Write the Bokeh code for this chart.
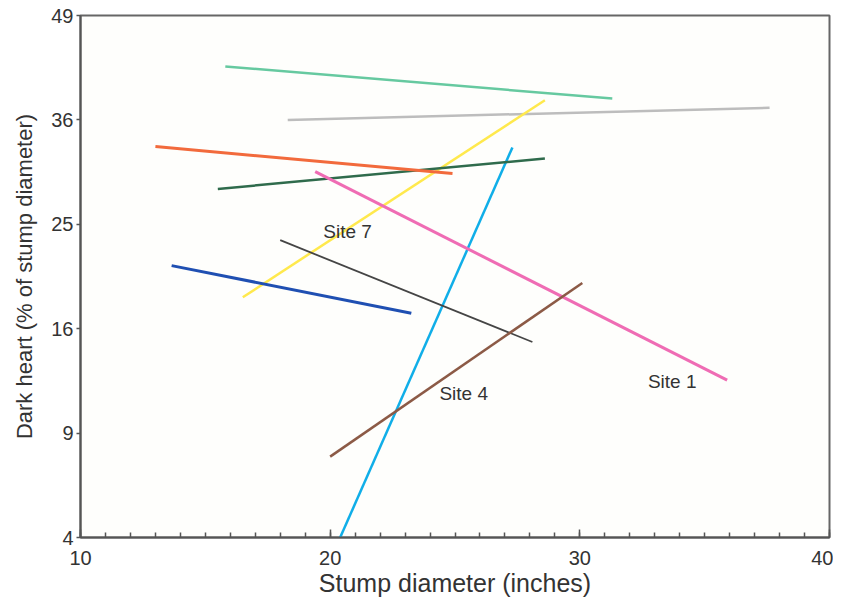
import math
from bokeh.plotting import figure
from bokeh.models import FixedTicker, Range1d
from bokeh.core.properties import value
from bokeh.embed import file_html
from bokeh.resources import INLINE

# Data (stump diameter in inches, dark heart % on square-root scale)
series_names = ["teal", "gray", "yellow", "cyan", "darkgreen", "orange", "pink", "darkgray", "navy", "brown"]
x_start = [15.8, 18.3, 16.5, 20.4, 15.5, 13.0, 19.4, 18.0, 13.65, 20.0]
x_end   = [31.3, 37.6, 28.6, 27.3, 28.6, 24.9, 35.9, 28.1, 23.25, 30.1]
y_start = [42.4, 36.0, 18.5, 4.0, 28.5, 33.0, 30.3, 23.5, 21.2, 7.7]
y_end   = [38.5, 37.4, 38.3, 32.9, 31.7, 30.1, 12.3, 15.0, 17.2, 19.7]
colors  = ["#66c9a0", "#bdbdbd", "#ffe94d", "#10aee8", "#2f6b4c", "#f26a3c", "#ef6cb4", "#454545", "#1f4fb2", "#8c5a46"]
widths  = [2.5, 2.5, 2.5, 2.5, 2.5, 3, 3, 1.8, 3, 2.5]

site_labels = ["Site 7", "Site 4", "Site 1"]
site_x = [20.7, 25.35, 33.7]
site_y = [24.3, 11.4, 12.2]

y_ticks = [4, 9, 16, 25, 36, 49]
x_ticks = [10, 20, 30, 40]

def tr(v):
    return math.sqrt(v)

FONT = "Liberation Sans"

p = figure(width=833, height=600, output_backend="svg", toolbar_location=None,
           x_range=Range1d(10, 40), y_range=Range1d(tr(4), tr(49)),
           min_border_left=80, min_border_right=4, min_border_top=15, min_border_bottom=63)

p.background_fill_color = "#fefefc"
p.border_fill_color = "white"
p.outline_line_color = "#666666"
p.outline_line_width = 2
p.xgrid.visible = False
p.ygrid.visible = False

for xs, xe, ys, ye, c, w in zip(x_start, x_end, y_start, y_end, colors, widths):
    p.line([xs, xe], [tr(ys), tr(ye)], line_color=c, line_width=w)

p.text(x=site_x, y=[tr(v) for v in site_y], text=site_labels, text_font=value(FONT),
       text_font_size="19px", text_color="#333333", text_align="center", text_baseline="middle")

p.xaxis.ticker = FixedTicker(ticks=x_ticks, minor_ticks=list(range(10, 41)))
p.xaxis.major_tick_in = 8
p.xaxis.major_tick_out = 0
p.xaxis.minor_tick_in = 5
p.xaxis.minor_tick_out = 0
p.xaxis.axis_line_color = "#555555"
p.xaxis.axis_line_width = 2
p.xaxis.major_tick_line_color = "#555555"
p.xaxis.minor_tick_line_color = "#555555"
p.xaxis.major_tick_line_width = 1.5
p.xaxis.minor_tick_line_width = 1.5
p.xaxis.major_label_standoff = 13
p.xaxis.axis_label = "Stump diameter (inches)"
p.xaxis.axis_label_text_font_size = "25px"
p.xaxis.axis_label_standoff = 1

p.yaxis.ticker = FixedTicker(ticks=[tr(v) for v in y_ticks], minor_ticks=[])
p.yaxis.major_label_overrides = {tr(v): str(v) for v in y_ticks}
p.yaxis.major_tick_in = 0
p.yaxis.major_tick_out = 4
p.yaxis.minor_tick_line_color = None
p.yaxis.axis_line_color = "#555555"
p.yaxis.axis_line_width = 2
p.yaxis.major_tick_line_color = "#555555"
p.yaxis.major_tick_line_width = 1.5
p.yaxis.major_label_standoff = 3
p.yaxis.axis_label = "Dark heart (% of stump diameter)"
p.yaxis.axis_label_text_font_size = "22px"
p.yaxis.axis_label_standoff = 11

for ax in (p.xaxis, p.yaxis):
    ax.major_label_text_font = FONT
    ax.major_label_text_font_size = "20px"
    ax.major_label_text_color = "#333333"
    ax.axis_label_text_font = FONT
    ax.axis_label_text_font_style = "normal"
    ax.axis_label_text_color = "#333333"

open("out.html", "w").write(file_html(p, INLINE))
